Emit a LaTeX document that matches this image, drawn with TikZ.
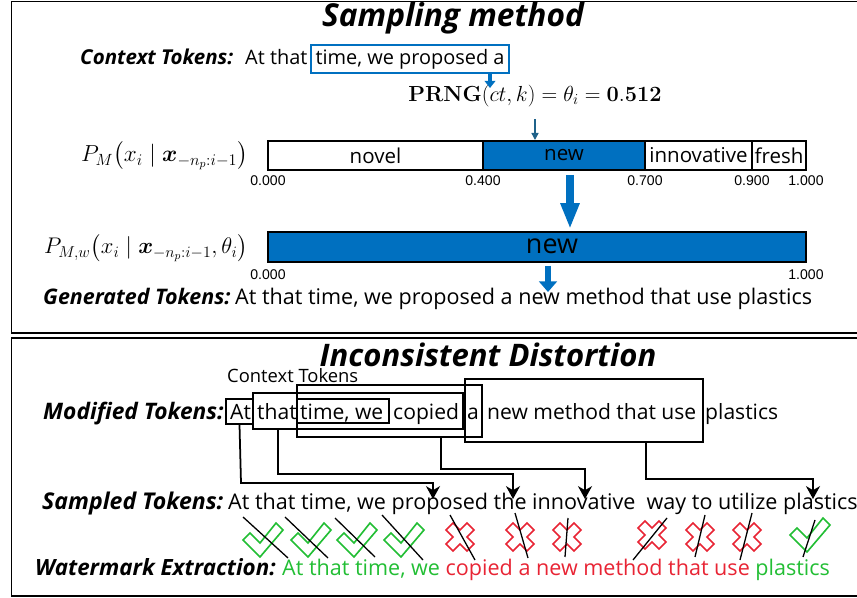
\RequirePackage{fix-cm}
\documentclass[tikz,border=0pt]{standalone}
\usepackage[no-math]{fontspec}
\setmainfont{Open Sans}
\newfontfamily\tickfont{Liberation Sans}
\usepackage{amsmath,amssymb}
\usetikzlibrary{arrows.meta,positioning,fit}

\definecolor{wmblue}{RGB}{0,112,192}
\definecolor{wmteal}{RGB}{31,98,138}
\definecolor{wmgreen}{RGB}{34,190,52}
\definecolor{wmred}{RGB}{232,36,52}

\tikzset{
  okmark/.pic={
    \draw[wmgreen, line width=1.4pt, fill=white]
      (-20,0) -- (-13,-7) -- (-3,3) -- (13,-17) -- (20,-10) -- (-3,17) -- cycle;
  },
  nomark/.pic={
    \draw[wmred, line width=1.5pt, fill=white]
      (0,-7) -- (7,-14) -- (14,-7) -- (7,0) -- (14,7) -- (7,14)
      -- (0,7) -- (-7,14) -- (-14,7) -- (-7,0) -- (-14,-7) -- (-7,-14) -- cycle;
  }
}

\begin{document}
\begin{tikzpicture}[
  x=0.03cm, y=-0.03cm,
  panel/.style={draw, line width=1.6pt},
  heading/.style={font=\fontsize{#1}{30}\selectfont\bfseries\itshape},
  heading/.default=27,
  rowlabel/.style={font=\fontsize{#1}{22}\selectfont\bfseries\itshape, anchor=base west, inner sep=0pt},
  rowlabel/.default=18.3,
  tokens/.style={font=\fontsize{#1}{22}\selectfont, anchor=base west, inner sep=0pt},
  tokens/.default=18.4,
  mathlabel/.style={anchor=east, font=\fontsize{#1}{22}\selectfont},
  mathlabel/.default=19.3,
  seg/.style={draw, line width=1.2pt, inner sep=0pt},
  segtext/.style={font=\fontsize{17.5}{22}\selectfont, inner sep=0pt},
  tick/.style={font=\tickfont\fontsize{12}{14}\selectfont, inner sep=0pt},
  ctxbox/.style={draw, line width=1.3pt, inner sep=0pt},
  link/.style={line width=1.5pt, -{Stealth[length=11pt,width=12pt,inset=3.5pt]}},
  strike/.style={line width=1.1pt}
]
\useasboundingbox (0,0) rectangle (857,598);

% panels
\draw[panel] (11.5,1.5) rectangle (880,333);
\draw[panel] (11.5,338) rectangle (880,596);

%% sampling method
\node[heading] (title1) at (453,18) {Sampling method};

\node[rowlabel=17.5] (ctxlabel) at (80,65) {Context Tokens:};
\node[tokens=17] (ctxhead) at (245,65) {At that};
\node[tokens=17, draw=wmblue, line width=1.5pt, inner xsep=4pt, inner ysep=3pt,
      text height=14pt, text depth=4pt] (ctxwin) at (310,65) {time, we proposed a};

\node[font=\fontsize{18.6}{22}\selectfont] (prng) at (535,96)
  {$\mathbf{PRNG}(ct, k) = \theta_i = \mathbf{0.512}$};

\draw[wmblue, line width=2.6pt, -{Triangle[length=6pt,width=9pt]}]
  (490,0 |- ctxwin.south) -- (490,88);
\draw[wmteal, line width=1.2pt, -{Triangle[length=6pt,width=6pt]}]
  (prng.south) ++(0,8) -- (535,140);

% distribution bar
\node[mathlabel=19.8] (pm) at (252,156)
  {$P_M\bigl(x_i \mid \boldsymbol{x}_{-n_p:i-1}\bigr)$};
\node[seg, fit={(268,141) (483,170)}] (novel) {};
\node[seg, fill=wmblue, fit={(483,141) (645,170)}] (new) {};
\node[seg, fit={(645,141) (752,170)}] (innov) {};
\node[seg, fit={(752,141) (806,170)}] (fresh) {};
\node[segtext] at (novel) {novel};
\node[segtext] at (new) {new};
\node[segtext] at (innov) {innovative};
\node[segtext] at (fresh) {fresh};

\node[tick] at (268,181) {0.000};
\node[tick] at (483,181) {0.400};
\node[tick] at (645,181) {0.700};
\node[tick] at (752,181) {0.900};
\node[tick] at (806,181) {1.000};

\draw[wmblue, line width=7pt, -{Triangle[length=22pt,width=15pt]}]
  (570,175) -- (570,229);

% watermarked bar
\node[mathlabel] (pmw) at (252,248)
  {$P_{M,w}\bigl(x_i \mid \boldsymbol{x}_{-n_p:i-1}, \theta_i\bigr)$};
\node[seg, fill=wmblue, fit={(268,232) (806,262)}] (bar) {};
\node[font=\fontsize{23}{26}\selectfont, inner sep=0pt] (barnew) at (552,246) {new};
\node[tick] at (268,275) {0.000};
\node[tick] at (806,275) {1.000};

\draw[wmblue, line width=5pt, -{Triangle[length=9pt,width=15pt]}]
  (548,0 |- bar.south) ++(0,3) -- (548,292);

\node[rowlabel] (genlabel) at (43,305) {Generated Tokens:};
\node[tokens] (gen) at (235,305) {At that time, we proposed a new method that use plastics};

%% inconsistent distortion
\node[heading=26.5] (title2) at (488,355) {Inconsistent Distortion};

\node[tokens=15.7] (ctxnote) at (227,383) {Context Tokens};

\node[rowlabel=19.4] (modlabel) at (43,420) {Modified Tokens:};
\node[tokens=18] (mAt) at (230,420) {At};
\node[tokens=18] (mthat) at (257,420) {that};
\node[tokens=18] (mtime) at (300,420) {time, we};
\node[tokens=18] (mcopied) at (393,420) {copied};
\node[tokens=18] (ma) at (467,420) {a};
\node[tokens=18] (mnew) at (487,420) {new method that use};
\node[tokens=18] (mplastics) at (705,420) {plastics};

\node[ctxbox, fit={(226,399) (253,424)}] (b1) {};
\node[ctxbox, fit={(253,393) (463,429)}] (b2) {};
\node[ctxbox, fit={(297,399) (389,423)}] (b3) {};
\node[ctxbox, fit={(297,385) (482,437)}] (b4) {};
\node[ctxbox, fit={(465,379) (703,442)}] (b5) {};

\node[rowlabel=19.7] (samlabel) at (42,510) {Sampled Tokens:};
\node[tokens] (sampled) at (228,510) {At that time, we proposed the innovative\ \ way to utilize plastics};

\coordinate (tproposed) at (433,499);
\coordinate (tthe) at (513,499);
\coordinate (tinnov) at (585,499);
\coordinate (tplastics) at (813,499);

\draw[link] (b1.south) -- (241,483) -| (tproposed);
\draw[link] (278,0 |- b2.south) -- (278,474) -| (tthe);
\draw[link] (441,0 |- b4.south) -- (441,469) -| (tinnov);
\draw[link] (646,0 |- b5.south) -- (646,479) -| (tplastics);

% extraction marks
\foreach \mx/\my/\kind in {263/540/okmark, 311/540/okmark, 357/540/okmark, 404/540/okmark,
    460/537/nomark, 520/537/nomark, 567/537/nomark, 652/535/nomark,
    700/537/nomark, 747/537/nomark, 810/535/okmark}
  \pic at (\mx,\my) {\kind};

\foreach \sx/\sy/\ex/\ey [count=\i] in {243/517/288/558, 285/517/328/558, 335/518/375/557,
    382/515/423/560, 450/515/475/560, 515/513/528/558, 568/518/565/557,
    667/518/633/560, 705/515/695/557, 752/513/740/560, 815/520/803/557} {
  \coordinate (s\i) at (\sx,\sy);
  \coordinate (e\i) at (\ex,\ey);
  \draw[strike] (s\i) -- (e\i);
}

\node[rowlabel=19.1] (wmlabel) at (35,575) {Watermark Extraction:};
\node[tokens] (wm) at (282,575)
  {\textcolor{wmgreen}{At that time, we} \textcolor{wmred}{copied a new method that use} \textcolor{wmgreen}{plastics}};
\end{tikzpicture}
\end{document}
